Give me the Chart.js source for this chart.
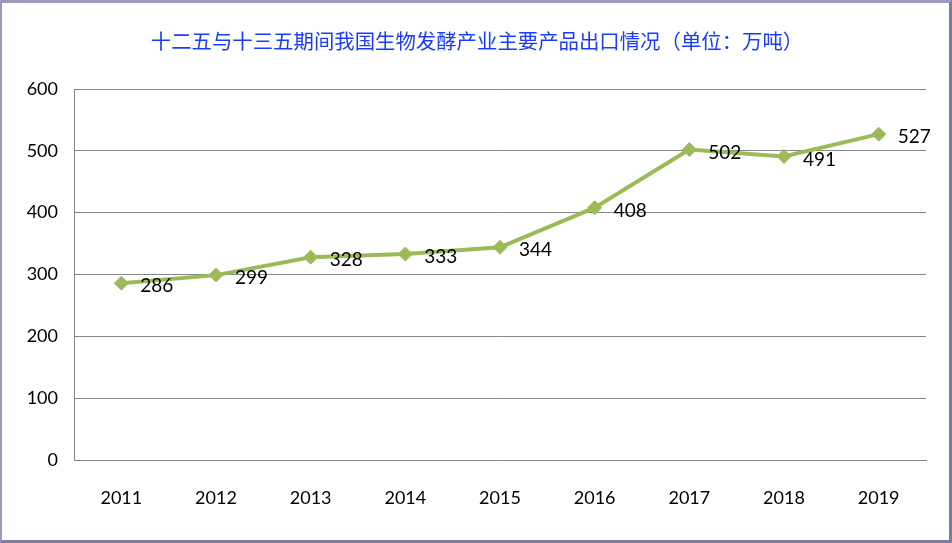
<!DOCTYPE html>
<html>
<head>
<meta charset="utf-8">
<script src="https://cdn.jsdelivr.net/npm/chart.js@4"></script>
<style>
  body { margin: 0; background: #fff; }
  #wrap {
    width: 952px; height: 543px; box-sizing: border-box;
    border-top: 3px solid #9a9ac0; border-left: 2px solid #9a9ac0;
    border-right: 3px solid #7c7c9c; border-bottom: 3px solid #7c7c9c;
    background: #fff;
  }
</style>
</head>
<body>
<div id="wrap"><canvas id="c" width="947" height="537"></canvas></div>
<script>
const TITLE = "十二五与十三五期间我国生物发酵产业主要产品出口情况（单位：万吨）";
const years = ["2011", "2012", "2013", "2014", "2015", "2016", "2017", "2018", "2019"];
const exports = [286, 299, 328, 333, 344, 408, 502, 491, 527];
const yTicks = [0, 100, 200, 300, 400, 500, 600];

const tickFont = { family: "Lato", size: 18 };

// title drawn by hand so it can sit a bit right of the plot centre, like the original
const chartTitle = {
  id: "chartTitle",
  afterDraw(chart) {
    const ctx = chart.ctx;
    ctx.save();
    ctx.font = "20.4px 'Noto Sans CJK SC'";
    ctx.fillStyle = "#1a3cff";
    ctx.textAlign = "center";
    ctx.textBaseline = "middle";
    ctx.fillText(TITLE, 475, 38);
    ctx.restore();
  }
};

// value labels to the right of each point
const valueLabels = {
  id: "valueLabels",
  afterDatasetsDraw(chart) {
    const ctx = chart.ctx;
    const meta = chart.getDatasetMeta(0);
    ctx.save();
    ctx.font = "19px Lato";
    ctx.fillStyle = "#000";
    ctx.textAlign = "left";
    ctx.textBaseline = "middle";
    meta.data.forEach((pt, i) => {
      ctx.fillText(String(exports[i]), pt.x + 19, pt.y + 3);
    });
    ctx.restore();
  }
};

new Chart(document.getElementById("c"), {
  type: "line",
  data: {
    labels: years,
    datasets: [{
      data: exports,
      borderColor: "#9bbb59",
      backgroundColor: "#9bbb59",
      borderWidth: 4,
      tension: 0,
      pointStyle: "rectRot",
      pointRadius: 7,
      pointBorderWidth: 1,
      pointBackgroundColor: "#9bbb59",
      pointBorderColor: "#9bbb59"
    }]
  },
  options: {
    responsive: false,
    animation: false,
    layout: { padding: { left: 0, right: 23, top: 86, bottom: 0 } },
    plugins: {
      legend: { display: false },
      tooltip: { enabled: false },
      title: { display: false }
    },
    scales: {
      x: {
        offset: true,
        grid: { display: false, drawTicks: false },
        border: { display: true, color: "#868686" },
        ticks: { color: "#000", font: tickFont, padding: 27, maxRotation: 0 },
        afterFit(scale) { scale.height = 80; }
      },
      y: {
        min: 0,
        max: 600,
        afterBuildTicks(scale) { scale.ticks = yTicks.map(v => ({ value: v })); },
        grid: { color: "#868686", drawTicks: false },
        border: { display: true, color: "#868686" },
        ticks: { color: "#000", font: tickFont, padding: 16 },
        afterFit(scale) { scale.width = 72; }
      }
    }
  },
  plugins: [valueLabels, chartTitle]
});
</script>
</body>
</html>
